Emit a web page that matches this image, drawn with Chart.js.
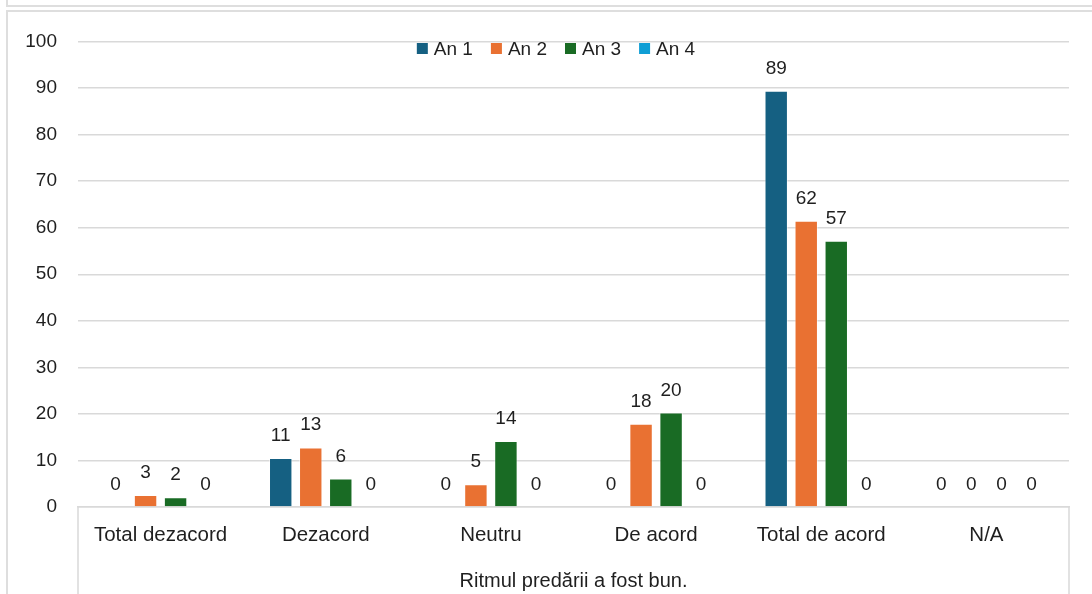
<!DOCTYPE html>
<html>
<head>
<meta charset="utf-8">
<script src="https://cdn.jsdelivr.net/npm/chart.js@4.4.1/dist/chart.umd.min.js"></script>
<style>
  body { margin: 0; background: #fff; }
  #wrap { position: relative; width: 1092px; height: 594px; overflow: hidden; }
  .prev { position: absolute; left: 6px; top: -10px; width: 1200px; height: 13px; border: 2px solid #dedede; }
  .frame { position: absolute; left: 6px; top: 10px; width: 1200px; height: 700px; border: 2px solid #dedede; }
  canvas { position: absolute; left: 0; top: 0; }
</style>
</head>
<body>
<div id="wrap">
  <div class="prev"></div>
  <div class="frame"></div>
  <canvas id="chart" width="1092" height="594"></canvas>
</div>
<script>
// categories and series
const categories = ['Total dezacord', 'Dezacord', 'Neutru', 'De acord', 'Total de acord', 'N/A'];
const groupTitle = 'Ritmul predării a fost bun.';
const an1 = [0, 10.5, 0, 0, 89.4, 0];
const an2 = [2.6, 12.8, 4.9, 17.9, 61.5, 0];
const an3 = [2.1, 6.1, 14.2, 20.3, 57.2, 0];
const an4 = [0, 0, 0, 0, 0, 0];
const seriesNames = ['An 1', 'An 2', 'An 3', 'An 4'];
const seriesColors = ['#156082', '#E97132', '#196B24', '#0F9ED5'];

const FONT = '"Liberation Sans", Arial, sans-serif';
const TEXT = '#1f1f1f';
const LINE = '#d9d9d9';

// value labels above each bar (rounded like the original)
const valueLabels = {
  id: 'valueLabels',
  afterDatasetsDraw(chart) {
    const ctx = chart.ctx;
    ctx.save();
    ctx.font = '19px ' + FONT;
    ctx.fillStyle = TEXT;
    ctx.textAlign = 'center';
    ctx.textBaseline = 'alphabetic';
    chart.data.datasets.forEach((ds, i) => {
      chart.getDatasetMeta(i).data.forEach((bar, j) => {
        ctx.fillText(String(Math.round(ds.data[j])), bar.x, bar.y - 17);
      });
    });
    ctx.restore();
  }
};

// legend drawn inside the plot, plus the category box edges below the axis
const decorations = {
  id: 'decorations',
  afterDraw(chart) {
    const ctx = chart.ctx;
    const area = chart.chartArea;
    ctx.save();
    ctx.strokeStyle = LINE;
    ctx.lineWidth = 1.5;
    ctx.beginPath();
    ctx.moveTo(area.left, area.bottom);
    ctx.lineTo(area.left, chart.height);
    ctx.moveTo(area.right, area.bottom);
    ctx.lineTo(area.right, chart.height);
    ctx.stroke();

    ctx.font = '19px ' + FONT;
    const box = 11, gap = 6, spacing = 18;
    const widths = seriesNames.map(n => box + gap + ctx.measureText(n).width);
    const total = widths.reduce((a, b) => a + b, 0) + spacing * (widths.length - 1);
    let x = 556 - total / 2;
    const y = area.top + 7;
    ctx.textBaseline = 'middle';
    ctx.textAlign = 'left';
    seriesNames.forEach((n, i) => {
      ctx.fillStyle = seriesColors[i];
      ctx.fillRect(x, y - box / 2, box, box);
      ctx.fillStyle = TEXT;
      ctx.fillText(n, x + box + gap, y + 1);
      x += widths[i] + spacing;
    });
    ctx.restore();
  }
};

new Chart(document.getElementById('chart'), {
  type: 'bar',
  data: {
    labels: categories,
    datasets: [an1, an2, an3, an4].map((d, i) => ({
      label: seriesNames[i],
      data: d,
      backgroundColor: seriesColors[i],
      borderColor: 'rgba(255,255,255,0.5)',
      borderWidth: 1,
      categoryPercentage: 0.727,
      barPercentage: 0.78
    }))
  },
  options: {
    responsive: false,
    animation: false,
    layout: { padding: { left: 0, top: 41.5, right: 23, bottom: 0 } },
    plugins: { legend: { display: false }, tooltip: { enabled: false } },
    scales: {
      y: {
        min: 0,
        max: 100,
        ticks: { stepSize: 10, padding: 21, color: TEXT, font: { family: FONT, size: 19 } },
        grid: { color: LINE, lineWidth: 1.5, drawTicks: false },
        border: { display: false },
        afterFit(s) { s.width = 78; }
      },
      x: {
        ticks: { padding: 16, color: TEXT, font: { family: FONT, size: 20.5 }, maxRotation: 0 },
        grid: { display: false, drawTicks: false },
        border: { display: true, color: LINE, width: 1.5 },
        title: {
          display: true,
          text: groupTitle,
          color: TEXT,
          font: { family: FONT, size: 20 },
          padding: { top: 0, bottom: 1 }
        },
        afterFit(s) { s.height = 87; }
      }
    }
  },
  plugins: [valueLabels, decorations]
});
</script>
</body>
</html>
